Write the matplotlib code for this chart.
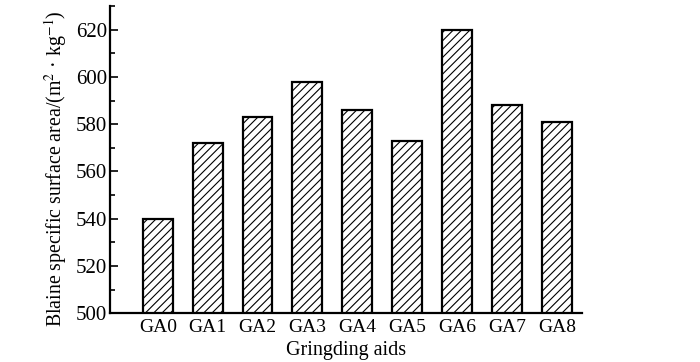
import matplotlib
matplotlib.use("Agg")
import matplotlib.pyplot as plt
from matplotlib.ticker import MultipleLocator

categories = ["GA0", "GA1", "GA2", "GA3", "GA4", "GA5", "GA6", "GA7", "GA8"]
values = [540, 572, 583, 598, 586, 573, 620, 588, 581]

plt.rcParams['font.family'] = ['Liberation Serif', 'DejaVu Serif']
plt.rcParams['mathtext.fontset'] = 'stix'
plt.rcParams['hatch.linewidth'] = 0.8

fig = plt.figure(figsize=(7, 3.62), dpi=100)
ax = fig.add_axes([0.157, 0.135, 0.674, 0.848])

x = list(range(len(categories)))
ax.bar(x, values, width=0.6, bottom=0, color='white', edgecolor='black',
       linewidth=1.6, hatch='////')

ax.set_ylim(500, 630)
ax.set_xlim(-0.96, 8.5)
ax.set_xticks(x)
ax.set_xticklabels(categories)
ax.set_yticks([500, 520, 540, 560, 580, 600, 620])
ax.yaxis.set_minor_locator(MultipleLocator(10))

for s in ['top', 'right']:
    ax.spines[s].set_visible(False)
for s in ['left', 'bottom']:
    ax.spines[s].set_linewidth(1.6)

ax.tick_params(axis='y', which='major', direction='in', length=6, width=1.2, labelsize=15, pad=2)
ax.tick_params(axis='y', which='minor', direction='in', length=3.5, width=1.2)
ax.tick_params(axis='x', length=0, labelsize=14, pad=4)

ax.set_xlabel("Gringding aids", fontsize=14.5, labelpad=4)
ax.set_ylabel(r"Blaine specific surface area/(m$^{2}$ · kg$^{-1}$)", fontsize=14.3)
ax.yaxis.set_label_coords(-0.087, 0.472)

fig.savefig("out.png", dpi=100)
